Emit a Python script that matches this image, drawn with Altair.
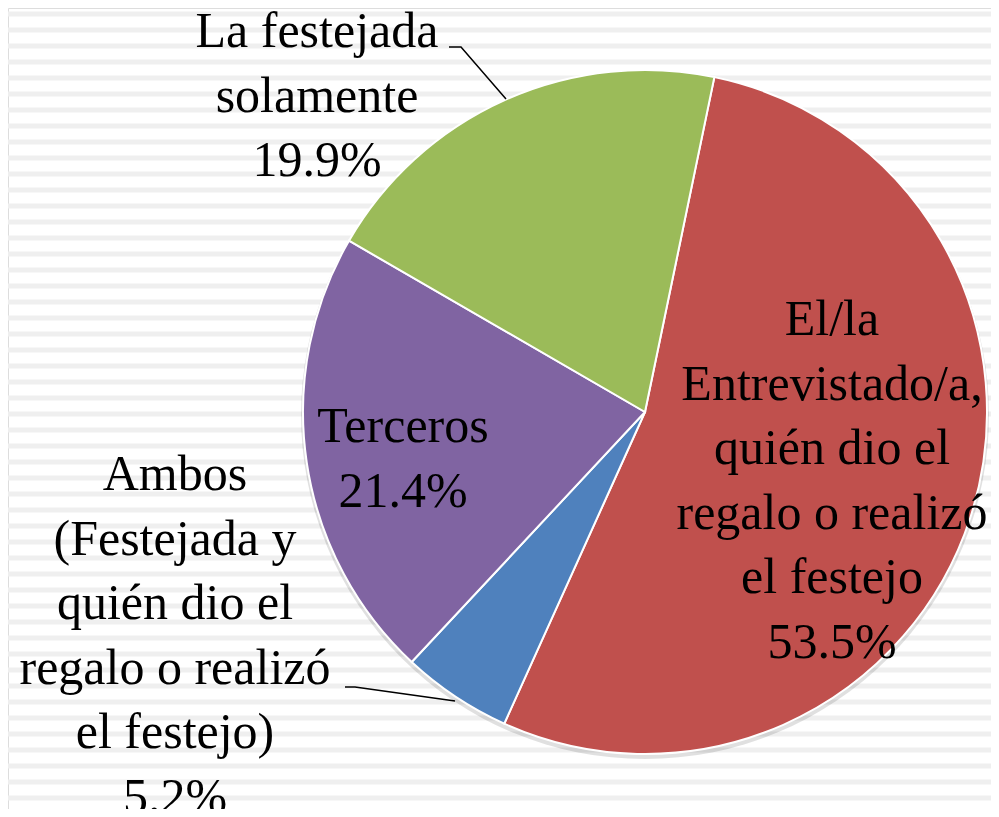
import math
import altair as alt
import pandas as pd

# ---- data ----
categories = [
    "El/la Entrevistado/a, quién dio el regalo o realizó el festejo",
    "Ambos (Festejada y quién dio el regalo o realizó el festejo)",
    "Terceros",
    "La festejada solamente",
]
values = [53.5, 5.2, 21.4, 19.9]
label_lines = [
    ["El/la", "Entrevistado/a,", "quién dio el", "regalo o realizó", "el festejo"],
    ["Ambos", "(Festejada y", "quién dio el", "regalo o realizó", "el festejo)"],
    ["Terceros"],
    ["La festejada", "solamente"],
]
colors = ["#C0504D", "#4F81BD", "#8064A2", "#9BBB59"]

# ---- layout (pixels inside the plot area) ----
W, H = 983, 801
CX, CY, R = 637, 404, 342
START = math.radians(11.7)
label_x = [824, 167, 395, 309]
label_y = [327, 482, 434, 39]
LINE_H = 64.5
leaders = [
    ("g", 441, 39), ("g", 453, 39), ("g", 498, 91),
    ("b", 337, 679), ("b", 347, 679), ("b", 447, 693),
]

pie_df = pd.DataFrame({
    "category": categories,
    "value": values,
    "idx": list(range(len(values))),
})
lab_df = pd.DataFrame({
    "text": ["\n".join(lines + [f"{v:.1f}%"]) for lines, v in zip(label_lines, values)],
    "x": label_x,
    "y": label_y,
})
lead_df = pd.DataFrame(leaders, columns=["seg", "x", "y"])
lead_df["o"] = range(len(lead_df))
stripe_df = pd.DataFrame({"k": list(range(51))})

stripes = alt.Chart(stripe_df).transform_calculate(
    yy="6 + 16 * datum.k"
).mark_rule(color="#efefef", strokeWidth=5).encode(
    y=alt.Y("yy:Q", scale=None, axis=None)
)

shadow = alt.Chart(pd.DataFrame({"t1": [0.0], "t2": [2 * math.pi]})).mark_arc(
    radius=R + 2, color="#000000", opacity=0.12
).encode(
    theta=alt.Theta("t1:Q", scale=None), theta2="t2:Q",
    x=alt.value(CX), y=alt.value(CY + 3),
)

pie = alt.Chart(pie_df).transform_joinaggregate(
    total="sum(value)"
).transform_window(
    cum="sum(value)", sort=[alt.SortField("idx", order="ascending")],
    frame=[None, 0]
).transform_calculate(
    t2=f"{START} + 2 * PI * datum.cum / datum.total",
    t1=f"{START} + 2 * PI * (datum.cum - datum.value) / datum.total",
).mark_arc(
    radius=R, stroke="white", strokeWidth=2
).encode(
    theta=alt.Theta("t1:Q", scale=None),
    theta2="t2:Q",
    color=alt.Color("category:N", scale=alt.Scale(domain=categories, range=colors), legend=None),
    x=alt.value(CX), y=alt.value(CY),
)

leader_lines = alt.Chart(lead_df).mark_line(color="black", strokeWidth=1.5).encode(
    x=alt.X("x:Q", scale=None, axis=None),
    y=alt.Y("y:Q", scale=None, axis=None),
    detail="seg:N",
    order="o:Q",
)

labels = alt.Chart(lab_df).mark_text(
    font="Liberation Serif", fontSize=50, lineHeight=LINE_H, lineBreak="\n",
    align="center", baseline="alphabetic", color="black"
).encode(
    x=alt.X("x:Q", scale=None, axis=None),
    y=alt.Y("y:Q", scale=None, axis=None),
    text="text:N",
)

chart = alt.layer(stripes, shadow, pie, leader_lines, labels).properties(
    width=W, height=H, padding=0, autosize="none"
).configure_view(stroke=None).configure(background="white")

chart.save("out.html", embed_options={"renderer": "svg", "actions": False})
